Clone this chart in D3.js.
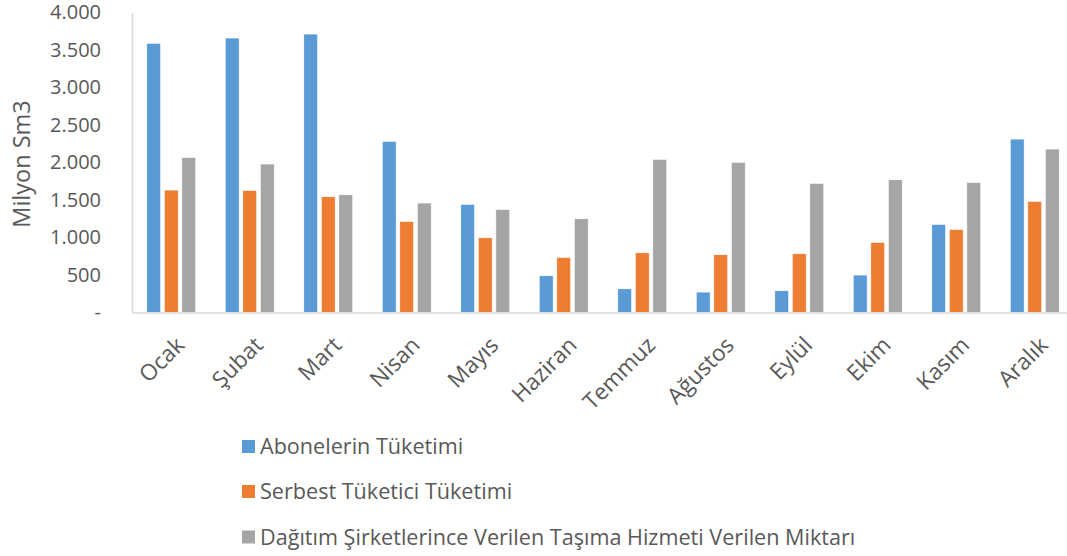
<!DOCTYPE html>
<html>
<head>
<meta charset="utf-8">
<script src="https://cdn.jsdelivr.net/npm/d3@7"></script>
<style>
  html, body { margin: 0; padding: 0; background: #fff; }
  svg { display: block; font-family: "Open Sans", "DejaVu Sans", sans-serif; }
</style>
</head>
<body>
<svg id="chart" width="1067" height="556"></svg>
<script>
// Monthly natural gas volumes (million Sm3)
const months = ["Ocak", "Şubat", "Mart", "Nisan", "Mayıs", "Haziran",
                "Temmuz", "Ağustos", "Eylül", "Ekim", "Kasım", "Aralık"];
const seriesNames = ["Abonelerin Tüketimi", "Serbest Tüketici Tüketimi",
                     "Dağıtım Şirketlerince Verilen Taşıma Hizmeti Verilen Miktarı"];
const aboneValues   = [3590, 3660, 3713, 2283, 1443, 491, 317, 273, 291, 500, 1176, 2313];
const serbestValues = [1633, 1629, 1544, 1216, 997, 736, 797, 771, 784, 936, 1109, 1483];
const dagitimValues = [2069, 1980, 1571, 1460, 1376, 1251, 2043, 2003, 1723, 1771, 1736, 2180];
const yTicks = [0, 500, 1000, 1500, 2000, 2500, 3000, 3500, 4000];
const colors = ["#5b9bd5", "#ed7d31", "#a5a5a5"];

const seriesValues = [aboneValues, serbestValues, dagitimValues];
const svg = d3.select("#chart");
const textColor = "#595959";

const x0 = d3.scaleBand().domain(months).range([132, 1074]).paddingInner(0).paddingOuter(0);
const x1 = d3.scaleBand().domain(d3.range(3))
  .range([14.7, x0.bandwidth() - 14.7]).paddingInner(0.2).paddingOuter(0);
const y = d3.scaleLinear().domain([0, 4000]).range([312.5, 12.5]);

const fmt = v => v === 0 ? "-" : d3.format(",")(v).replace(/,/g, ".");

// Y axis
const yAxis = svg.append("g")
  .attr("transform", "translate(132,0)")
  .call(d3.axisLeft(y).tickValues(yTicks).tickFormat(fmt).tickSize(0).tickPadding(31));
yAxis.select(".domain").attr("stroke", "#d9d9d9").attr("stroke-width", 1.5);
yAxis.selectAll("text").attr("fill", textColor).style("font-size", "20px")
  .style("font-family", "'Open Sans', sans-serif");

// Bars
const groups = svg.append("g").selectAll("g")
  .data(months)
  .join("g")
  .attr("transform", d => `translate(${x0(d)},0)`);

groups.selectAll("rect")
  .data((m, i) => seriesValues.map((vals, s) => ({ s, v: vals[i] })))
  .join("rect")
  .attr("x", d => x1(d.s))
  .attr("width", x1.bandwidth())
  .attr("y", d => y(d.v))
  .attr("height", d => y(0) - y(d.v))
  .attr("fill", d => colors[d.s])
  .attr("stroke", "#ffffff")
  .attr("stroke-width", 0.75);

// X axis
const xAxis = svg.append("g")
  .attr("transform", `translate(0,${y(0)})`)
  .call(d3.axisBottom(x0).tickSize(0).tickFormat(""));
xAxis.select(".domain").attr("stroke", "#d9d9d9").attr("stroke-width", 1.5);

svg.append("g").selectAll("text")
  .data(months)
  .join("text")
  .attr("transform", d => `translate(${x0(d) + x0.bandwidth() / 2 + 9},341) rotate(-45)`)
  .attr("text-anchor", "end")
  .attr("dy", "0.35em")
  .attr("fill", textColor)
  .style("font-size", "22.5px")
  .text(d => d);

// Y axis title
svg.append("text")
  .attr("transform", "translate(22,164) rotate(-90)")
  .attr("text-anchor", "middle")
  .attr("dy", "0.35em")
  .attr("fill", textColor)
  .style("font-size", "23.5px")
  .text("Milyon Sm3");

// Legend
const legend = svg.append("g").selectAll("g")
  .data(seriesNames)
  .join("g")
  .attr("transform", (d, i) => `translate(242,${[446.5, 491.5, 537][i]})`);
legend.append("rect")
  .attr("x", 0).attr("y", -6.5).attr("width", 13).attr("height", 13)
  .attr("fill", (d, i) => colors[i]);
legend.append("text")
  .attr("x", 18)
  .attr("dy", "0.35em")
  .attr("fill", textColor)
  .style("font-size", "21.6px")
  .text(d => d);
</script>
</body>
</html>
